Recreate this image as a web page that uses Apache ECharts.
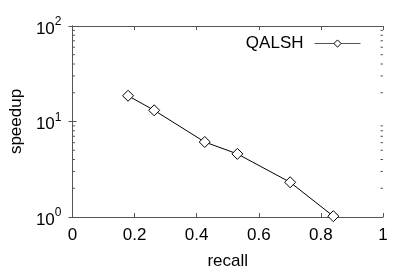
<!DOCTYPE html>
<html><head><meta charset="utf-8">
<script src="https://cdn.jsdelivr.net/npm/echarts@6/dist/echarts.min.js"></script>
<style>html,body{margin:0;padding:0;background:#fff}#c{width:399px;height:279px}</style>
</head><body><div id="c"></div>
<script>
const seriesName = 'QALSH';
const recall = [0.179, 0.263, 0.426, 0.531, 0.701, 0.840];
const speedup = [18.6, 13.1, 6.1, 4.58, 2.31, 1.02];
const xTicks = [0, 0.2, 0.4, 0.6, 0.8, 1];
const yMinorTicks = [2,3,4,5,6,7,8,9,20,30,40,50,60,70,80,90];

const FONT = '"Liberation Sans", Arial, Helvetica, sans-serif';
const chart = echarts.init(document.getElementById('c'), null, {renderer:'canvas'});
const lineCol = '#555';
const xLabelFmt = v => (v === 0 ? '0' : v === 1 ? '1' : v.toFixed(1));
const yLabelFmt = v => '{b|10}{s|' + Math.round(Math.log10(v)) + '}';

const xBase = {
  type: 'value', min: 0, max: 1, interval: 0.2,
  axisLine: {show: true, onZero: false, lineStyle: {color: lineCol, width: 1}},
  axisTick: {show: true, inside: true, length: 4, lineStyle: {color: lineCol}},
  splitLine: {show: false}
};
const yBase = {
  type: 'log', logBase: 10, min: 1, max: 100,
  axisLine: {show: true, lineStyle: {color: lineCol, width: 1}},
  axisTick: {show: true, inside: true, length: 4, lineStyle: {color: lineCol}},
  splitLine: {show: false}, minorTick: {show: false}
};

chart.setOption({
  animation: false,
  backgroundColor: '#fff',
  grid: {left: 69, right: 16, top: 26, bottom: 62},
  legend: {
    data: [seriesName], top: 30, right: 33, align: 'right',
    itemWidth: 46, itemHeight: 9, itemGap: 10,
    lineStyle: {width: 1, color: '#555'},
    itemStyle: {borderWidth: 1},
    textStyle: {fontFamily: FONT, fontSize: 17, color: '#000', padding: [0, 6, 0, 0]}
  },
  xAxis: [
    Object.assign({}, xBase, {
      position: 'bottom', name: 'recall', nameLocation: 'middle', nameGap: 36,
      nameTextStyle: {fontFamily: FONT, fontSize: 17, color: '#000'},
      axisLabel: {show: true, margin: 10, formatter: xLabelFmt, fontFamily: FONT, fontSize: 17, color: '#000'}
    }),
    Object.assign({}, xBase, {position: 'top', axisLabel: {show: false}})
  ],
  yAxis: [
    Object.assign({}, yBase, {
      position: 'left', name: 'speedup', nameLocation: 'middle', nameGap: 44,
      nameTextStyle: {fontFamily: FONT, fontSize: 17, color: '#000'},
      axisLabel: {show: true, margin: 11, formatter: yLabelFmt,
        rich: {
          b: {fontFamily: FONT, fontSize: 17, color: '#000', padding: [6,0,0,0]},
          s: {fontFamily: FONT, fontSize: 12, color: '#000', padding: [0,0,8,0]}
        }}
    }),
    Object.assign({}, yBase, {position: 'right', axisLabel: {show: false}})
  ],
  series: [
    {
      name: seriesName, type: 'line', xAxisIndex: 0, yAxisIndex: 0,
      data: recall.map((x, i) => [x, speedup[i]]),
      symbol: 'diamond', symbolSize: 11, showAllSymbol: true,
      lineStyle: {color: '#000', width: 1},
      itemStyle: {color: '#fff', borderColor: '#000', borderWidth: 1},
      z: 5
    },
    {
      name: 'minor', type: 'custom', xAxisIndex: 0, yAxisIndex: 0,
      data: yMinorTicks.map(v => [0, v]),
      silent: true,
      renderItem: function (params, api) {
        const p0 = api.coord([0, api.value(1)]);
        const p1 = api.coord([1, api.value(1)]);
        return {type: 'group', children: [
          {type: 'line', shape: {x1: p0[0], y1: p0[1], x2: p0[0] + 2.5, y2: p0[1]}, style: {stroke: lineCol, lineWidth: 1}},
          {type: 'line', shape: {x1: p1[0], y1: p1[1], x2: p1[0] - 2.5, y2: p1[1]}, style: {stroke: lineCol, lineWidth: 1}}
        ]};
      }
    }
  ]
});
</script></body></html>
